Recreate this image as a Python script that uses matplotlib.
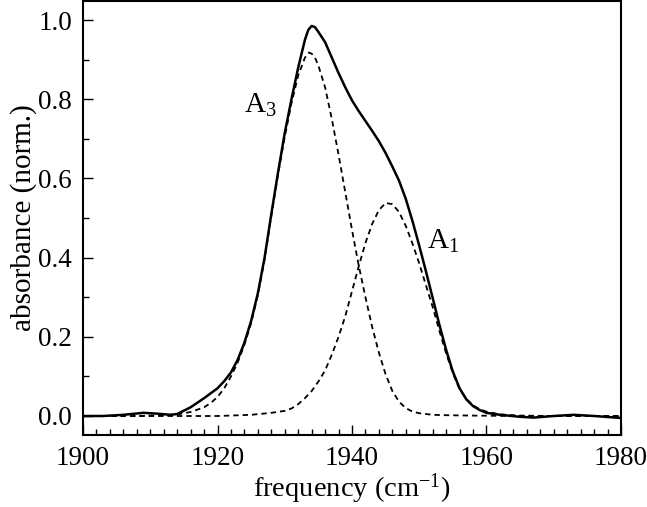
import matplotlib

matplotlib.use("Agg")
import matplotlib.pyplot as plt

plt.rcParams["font.family"] = ["Liberation Serif", "DejaVu Serif"]
plt.rcParams["mathtext.fontset"] = "custom"
plt.rcParams["mathtext.rm"] = "Liberation Serif"
plt.rcParams["mathtext.it"] = "Liberation Serif:italic"

# measured spectrum (solid)
total_x = [1900, 1903, 1906, 1909, 1911, 1913, 1914, 1916, 1918, 1920, 1921, 1922,
           1923, 1924, 1925, 1926, 1927, 1928, 1929, 1930, 1931, 1932, 1933, 1933.5,
           1934, 1934.5, 1935, 1936, 1937, 1938, 1939, 1940, 1941, 1942, 1943, 1944,
           1945, 1946, 1947, 1948, 1949, 1950, 1951, 1952, 1953, 1954, 1955, 1956,
           1957, 1958, 1959, 1960, 1962, 1965, 1967, 1970, 1973, 1976, 1980]
total_y = [0.000, 0.000, 0.003, 0.008, 0.006, 0.003, 0.005, 0.022, 0.045, 0.070, 0.088, 0.110,
           0.142, 0.185, 0.240, 0.310, 0.400, 0.510, 0.615, 0.715, 0.800, 0.880, 0.950, 0.975,
           0.985, 0.982, 0.970, 0.944, 0.905, 0.866, 0.830, 0.797, 0.770, 0.745, 0.720, 0.694,
           0.664, 0.630, 0.594, 0.548, 0.492, 0.430, 0.365, 0.298, 0.230, 0.167, 0.112, 0.070,
           0.042, 0.025, 0.015, 0.008, 0.003, -0.002, -0.004, 0.000, 0.003, 0.000, -0.005]

# fitted component A3 (dashed)
a3_x = [1900, 1908, 1912, 1914, 1916, 1918, 1919, 1920, 1921, 1922, 1923, 1924,
        1925, 1926, 1927, 1928, 1929, 1930, 1931, 1932, 1933, 1933.6, 1934, 1934.5,
        1935, 1936, 1937, 1938, 1939, 1940, 1941, 1942, 1943, 1944, 1945, 1946,
        1947, 1948, 1949, 1950, 1952, 1954, 1958, 1965, 1980]
a3_y = [0.000, 0.000, 0.002, 0.004, 0.010, 0.022, 0.033, 0.048, 0.070, 0.100, 0.135, 0.180,
        0.235, 0.305, 0.395, 0.505, 0.610, 0.705, 0.790, 0.860, 0.905, 0.918, 0.915, 0.905,
        0.885, 0.830, 0.750, 0.660, 0.565, 0.470, 0.380, 0.300, 0.225, 0.160, 0.105, 0.063,
        0.036, 0.020, 0.011, 0.007, 0.003, 0.002, 0.001, 0.000, 0.000]

# fitted component A1 (dashed)
a1_x = [1900, 1920, 1925, 1928, 1930, 1931, 1932, 1933, 1934, 1935, 1936, 1937,
        1938, 1939, 1940, 1941, 1942, 1943, 1944, 1945, 1946, 1947, 1948, 1949,
        1950, 1951, 1952, 1953, 1954, 1955, 1956, 1957, 1958, 1959, 1960, 1962,
        1965, 1970, 1980]
a1_y = [0.000, 0.000, 0.003, 0.008, 0.013, 0.019, 0.030, 0.045, 0.063, 0.087, 0.115, 0.155,
        0.200, 0.252, 0.315, 0.378, 0.437, 0.485, 0.520, 0.538, 0.535, 0.515, 0.480, 0.435,
        0.385, 0.330, 0.275, 0.215, 0.158, 0.108, 0.068, 0.043, 0.027, 0.017, 0.011, 0.004,
        0.001, 0.000, 0.000]

x_ticks = [1900, 1920, 1940, 1960, 1980]
y_ticks = [0.0, 0.2, 0.4, 0.6, 0.8, 1.0]

fig = plt.figure(figsize=(6.47, 5.07), dpi=100)
ax = fig.add_axes([0.1283, 0.142, 0.8315, 0.856])

dash = (0, (3.0, 2.2))
ax.plot(a3_x, a3_y, color="black", linewidth=1.3, linestyle=dash)
ax.plot(a1_x, a1_y, color="black", linewidth=1.3, linestyle=dash)
ax.plot(total_x, total_y, color="black", linewidth=1.8)

ax.text(1923.9, 0.785, "A$_3$", fontsize=21, va="center", ha="left")
ax.text(1951.2, 0.44, "A$_1$", fontsize=21, va="center", ha="left")

ax.set_xlim(1900, 1980)
ax.set_ylim(-0.048, 1.048)
ax.set_xticks(x_ticks)
ax.set_yticks(y_ticks)
ax.set_xticks(range(1900, 1981, 2), minor=True)
ax.set_yticks([0.1, 0.3, 0.5, 0.7, 0.9], minor=True)
ax.yaxis.set_major_formatter(matplotlib.ticker.FormatStrFormatter("%.1f"))
ax.tick_params(which="both", direction="in", top=False, right=False, labelsize=19.5, width=1.0)
ax.tick_params(which="major", length=7.5)
ax.tick_params(which="minor", length=4.5)
ax.tick_params(axis="x", pad=8)
ax.tick_params(axis="y", pad=8)
for side in ax.spines.values():
    side.set_linewidth(1.5)

ax.set_xlabel("frequency (cm$^{-1}$)", fontsize=20.5, labelpad=0)
ax.set_ylabel("absorbance (norm.)", fontsize=21, labelpad=1)

fig.savefig("out.png", dpi=100)
